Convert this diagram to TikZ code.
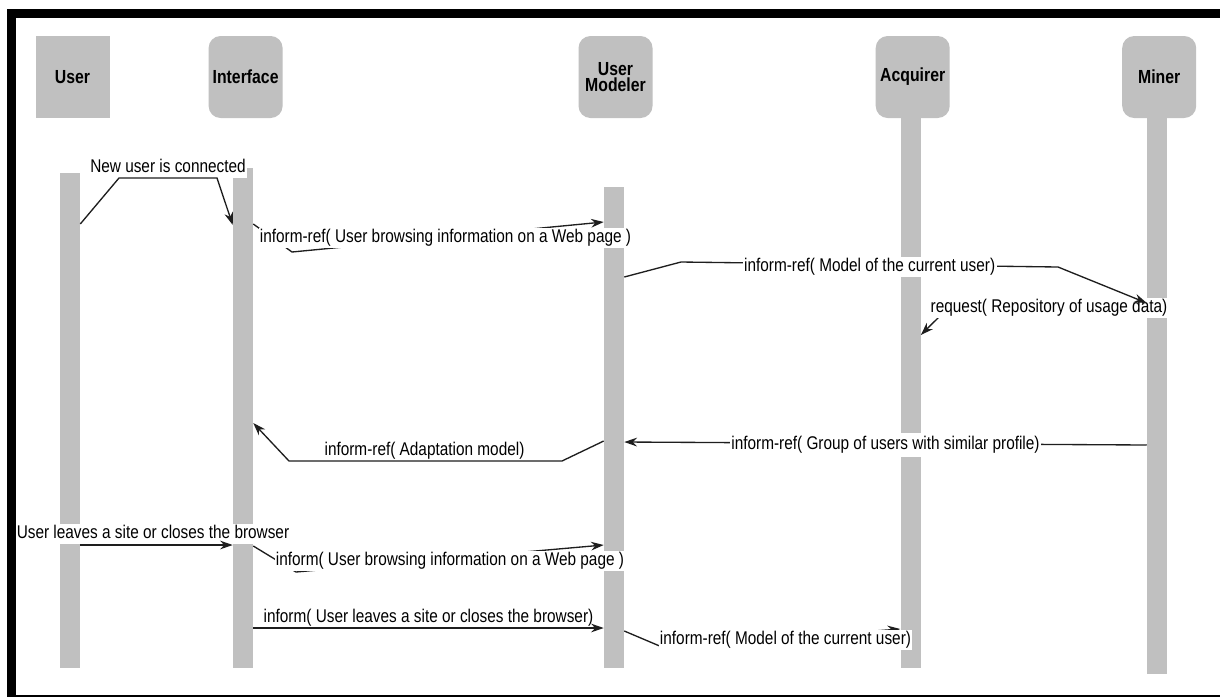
\documentclass[tikz,border=0pt]{standalone}
\usepackage{fontspec}
\setmainfont{Liberation Sans}
\newfontfamily\narrowfont{Liberation Sans}[FakeStretch=0.835]
\usetikzlibrary{arrows.meta}
\definecolor{lifegray}{HTML}{C0C0C0}
\definecolor{msgline}{HTML}{1E1E1E}
\begin{document}
\begin{tikzpicture}[x=0.75pt,y=-0.75pt,
  head/.style={fill=lifegray, draw=none, minimum width=55.5pt, minimum height=61.5pt,
    inner sep=0pt, rounded corners=9pt, align=center,
    font=\narrowfont\bfseries\fontsize{14.2}{12.5}\selectfont},
  lifebar/.style={fill=lifegray, draw=none, minimum width=15pt, inner sep=0pt},
  msg/.style={draw=msgline, line width=1pt, -{Stealth[length=9.5pt,width=6.5pt]}},
  lbl/.style={fill=white, inner sep=1pt, text height=10pt, text depth=3pt,
    font=\narrowfont\fontsize{13.8}{14}\selectfont}]
\useasboundingbox (0,0) rectangle (1220,697);
\fill[white] (0,0) rectangle (1220,697);

% headers
\node[head, sharp corners] (huser) at (72.5,77) {User};
\node[head] (hint) at (245.6,77) {Interface};
\node[head] (hum) at (615.5,77) {User\\Modeler};
\node[head] (hacq) at (912.7,77) {Acquirer};
\node[head] (hmin) at (1159.2,77) {Miner};

% lifelines
\node[lifebar, minimum height=371.25pt] (ubar) at (70,420.5) {};
\node[lifebar, minimum height=375pt] (ibar) at (243,418) {};
\node[lifebar, minimum height=360.75pt] (umbar) at (614,427.5) {};
\node[lifebar, minimum height=412.5pt] (abar) at (910.5,393) {};
\node[lifebar, minimum height=417pt] (mbar) at (1157,396) {};

% 1
\node[lbl] (l1) at (168,168) {New user is connected};
\draw[msg] (ubar.east |- 0,224) -- (119,178) -- (217,178) -- (ibar.west |- 0,225);

% 2
\draw[msg] (ibar.east |- 0,224) -- (292,252) -- (umbar.west |- 0,222);
\node[lbl] (l2) at (445.5,238) {inform-ref( User browsing information on a Web page )};

% 4 (drawn before 3 so that 3's arrow lies on top of its label)
\draw[msg] (mbar.west |- 0,309) -- (942,314) -- (abar.east |- 0,335);
\node[lbl] (l4) at (1049,308) {request( Repository of usage data)};

% 3
\draw[msg] (umbar.east |- 0,277) -- (681,262) -- (1058,267) -- (mbar.west |- 0,303);
\node[lbl] (l3) at (869.7,267) {inform-ref( Model of the current user)};

% 5
\draw[msg] (mbar.west |- 0,445) -- (umbar.east |- 0,442);
\node[lbl, inner ysep=2.5pt] (l5) at (885.5,444.6) {inform-ref( Group of users with similar profile)};

% 6
\node[lbl] (l6) at (424.5,450.5) {inform-ref( Adaptation model)};
\draw[msg] (umbar.west |- 0,441) -- (562,461) -- (289,461) -- (ibar.east |- 0,423);

% 7
\node[lbl] (l7) at (153,533.5) {User leaves a site or closes the browser};
\draw[msg] (ubar.east |- 0,545) -- (ibar.west |- 0,545);

% 8
\draw[msg] (ibar.east |- 0,546) -- (296,572) -- (umbar.west |- 0,545);
\node[lbl] (l8) at (450,561.3) {inform( User browsing information on a Web page )};

% 9
\node[lbl] (l9) at (428.5,618) {inform( User leaves a site or closes the browser)};
\draw[msg] (ibar.east |- 0,628) -- (umbar.west |- 0,628);

% 10
\draw[msg] (umbar.east |- 0,631) -- (662,647) -- (abar.west |- 0,629);
\node[lbl] (l10) at (785.5,640.3) {inform-ref( Model of the current user)};

% frame
\fill[black] (7,9) rectangle (16,697);
\fill[black] (7,9) rectangle (1220,18);
\fill[black] (7,695) rectangle (1220,697);
\end{tikzpicture}
\end{document}
